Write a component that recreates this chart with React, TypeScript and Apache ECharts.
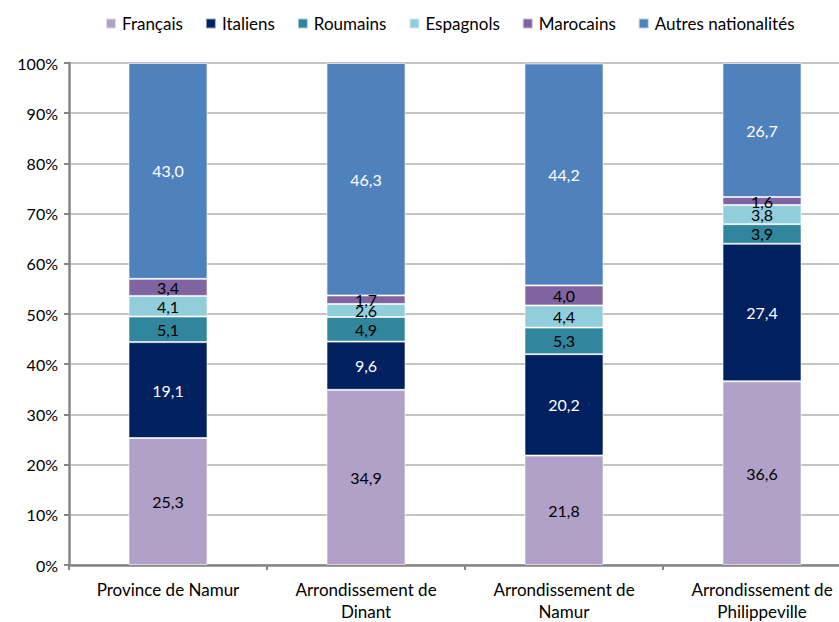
import React, { useEffect, useRef } from "react";
import * as echarts from "echarts";

const categories = [
  "Province de Namur",
  "Arrondissement de\nDinant",
  "Arrondissement de\nNamur",
  "Arrondissement de\nPhilippeville",
];
const seriesNames = ["Français", "Italiens", "Roumains", "Espagnols", "Marocains", "Autres nationalités"];
const francais = [25.3, 34.9, 21.8, 36.6];
const italiens = [19.1, 9.6, 20.2, 27.4];
const roumains = [5.1, 4.9, 5.3, 3.9];
const espagnols = [4.1, 2.6, 4.4, 3.8];
const marocains = [3.4, 1.7, 4.0, 1.6];
const autres = [43.0, 46.3, 44.2, 26.7];
const yTicks = [0, 10, 20, 30, 40, 50, 60, 70, 80, 90, 100];

const colors = ["#b1a0c7", "#002060", "#31859c", "#92cddc", "#8064a2", "#4f81bd"];
const labelColors = ["#000", "#fff", "#000", "#000", "#000", "#fff"];
const FONT = "Lato, 'Open Sans', sans-serif";

export default function App() {
  const ref = useRef<HTMLDivElement>(null);
  useEffect(() => {
    if (!ref.current) return;
    const chart = echarts.init(ref.current, null, { renderer: "svg" });
    const data = [francais, italiens, roumains, espagnols, marocains, autres];
    chart.setOption({
      animation: false,
      textStyle: { fontFamily: FONT },
      legend: {
        top: 10,
        left: 100,
        itemWidth: 10,
        itemHeight: 10,
        itemGap: 22,
        icon: "rect",
        textStyle: { fontFamily: FONT, fontSize: 17, color: "#000", padding: [0, 0, 0, 1] },
        data: seriesNames,
      },
      grid: { left: 69, top: 63, width: 792, height: 506, containLabel: false },
      xAxis: {
        type: "category",
        data: categories,
        axisLine: { lineStyle: { color: "#868686", width: 2.5 } },
        axisTick: { show: true, length: 5, lineStyle: { color: "#868686", width: 2 } },
        axisLabel: { color: "#000", fontFamily: FONT, fontSize: 17, lineHeight: 22, margin: 13 },
      },
      yAxis: {
        type: "value",
        min: 0,
        max: 100,
        interval: 10,
        axisLine: { show: true, lineStyle: { color: "#868686", width: 2.5 } },
        axisTick: { show: true, length: 5, lineStyle: { color: "#868686", width: 2 } },
        splitLine: { lineStyle: { color: "#c4c4c4", width: 2 } },
        axisLabel: {
          color: "#000",
          fontFamily: FONT,
          fontSize: 16,
          margin: 11,
          formatter: (v: number) => (yTicks.includes(v) ? v + "%" : ""),
        },
      },
      series: seriesNames.map((name, i) => ({
        name,
        type: "bar",
        stack: "total",
        barWidth: 79,
        data: data[i],
        itemStyle: { color: colors[i], borderColor: "rgba(255,255,255,0.6)", borderWidth: 1 },
        label: {
          show: true,
          position: "inside",
          color: labelColors[i],
          fontFamily: FONT,
          fontSize: 16,
          formatter: (p: any) => p.value.toFixed(1).replace(".", ","),
        },
      })),
    });
    return () => chart.dispose();
  }, []);
  return (
    <div style={{ position: "fixed", left: 0, top: 0, width: 839, height: 622, overflow: "hidden", background: "#fff" }}>
      <div ref={ref} style={{ width: 880, height: 622 }} />
    </div>
  );
}
